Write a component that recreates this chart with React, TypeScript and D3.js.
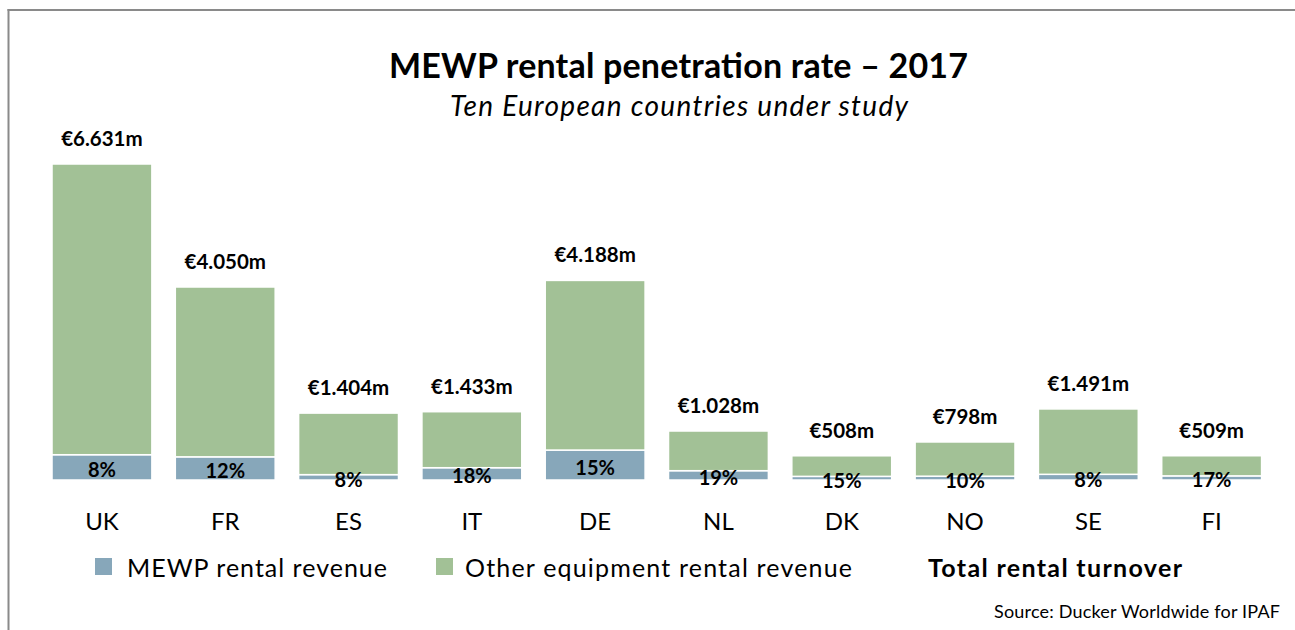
import React from "react";
import * as d3 from "d3";

const categories = ["UK", "FR", "ES", "IT", "DE", "NL", "DK", "NO", "SE", "FI"];
const totals = [6631, 4050, 1404, 1433, 4188, 1028, 508, 798, 1491, 509];
const mewpShare = [8, 12, 8, 18, 15, 19, 15, 10, 8, 17];
const totalLabels = ["€6.631m", "€4.050m", "€1.404m", "€1.433m", "€4.188m", "€1.028m", "€508m", "€798m", "€1.491m", "€509m"];
const legendLabels = ["MEWP rental revenue", "Other equipment rental revenue"];

const W = 1295;
const H = 630;
const FONT = "Lato, 'Open Sans', sans-serif";
const BLUE = "#87A7BA";
const GREEN = "#A2C196";

export default function App() {
  const x = d3
    .scaleBand<string>()
    .domain(categories)
    .range([40.3, 1273.3])
    .paddingInner(0.19)
    .paddingOuter(0.095);
  const y = d3.scaleLinear().domain([0, 6631]).range([480, 164]);

  return (
    <svg
      width={W}
      height={H}
      style={{ position: "absolute", left: 0, top: 0, background: "#fff" }}
    >
      <rect x={0} y={0} width={W} height={H} fill="#fff" />
      <line x1={8.5} y1={9} x2={8.5} y2={H} stroke="#8a8a8a" strokeWidth={2} />
      <line x1={7.5} y1={10} x2={W} y2={10} stroke="#8a8a8a" strokeWidth={2} />

      <text
        x={389}
        y={78}
        textLength={579}
        lengthAdjust="spacing"
        fontFamily={FONT}
        fontWeight="bold"
        fontSize={34}
        fill="#000"
      >
        MEWP rental penetration rate – 2017
      </text>
      <text
        x={450}
        y={116}
        textLength={458}
        lengthAdjust="spacing"
        fontFamily={FONT}
        fontStyle="italic"
        fontSize={28}
        fill="#000"
      >
        Ten European countries under study
      </text>

      {categories.map((c, i) => {
        const total = totals[i];
        const mewp = (total * mewpShare[i]) / 100;
        const bx = x(c)!;
        const bw = x.bandwidth();
        const cx = bx + bw / 2;
        const yMewp = y(mewp);
        const yTop = y(total);
        return (
          <g key={c}>
            <rect
              x={bx}
              y={yMewp}
              width={bw}
              height={y(0) - yMewp}
              fill={BLUE}
              stroke="#fff"
              strokeWidth={1.5}
            />
            <rect
              x={bx}
              y={yTop}
              width={bw}
              height={yMewp - yTop}
              fill={GREEN}
              stroke="#fff"
              strokeWidth={1.5}
            />
            <text
              x={cx}
              y={(yMewp + y(0)) / 2 + 1.5}
              textAnchor="middle"
              dominantBaseline="central"
              fontFamily={FONT}
              fontWeight="bold"
              fontSize={20}
              fill="#000"
            >
              {mewpShare[i]}%
            </text>
            <text
              x={cx}
              y={yTop - 26}
              textAnchor="middle"
              dominantBaseline="central"
              fontFamily={FONT}
              fontWeight="bold"
              fontSize={20.5}
              fill="#000"
            >
              {totalLabels[i]}
            </text>
            <text
              x={cx}
              y={520}
              textAnchor="middle"
              dominantBaseline="central"
              fontFamily={FONT}
              fontSize={24}
              fill="#000"
            >
              {c}
            </text>
          </g>
        );
      })}

      <rect x={95} y={558} width={17} height={17} fill={BLUE} />
      <text
        x={127}
        y={567}
        textLength={260}
        lengthAdjust="spacing"
        dominantBaseline="central"
        fontFamily={FONT}
        fontSize={25}
        fill="#000"
      >
        {legendLabels[0]}
      </text>
      <rect x={436} y={558} width={17} height={17} fill={GREEN} />
      <text
        x={465}
        y={567}
        textLength={387}
        lengthAdjust="spacing"
        dominantBaseline="central"
        fontFamily={FONT}
        fontSize={25}
        fill="#000"
      >
        {legendLabels[1]}
      </text>
      <text
        x={928}
        y={567}
        textLength={254}
        lengthAdjust="spacing"
        dominantBaseline="central"
        fontFamily={FONT}
        fontWeight="bold"
        fontSize={25}
        fill="#000"
      >
        Total rental turnover
      </text>
      <text
        x={994}
        y={611}
        textLength={286}
        lengthAdjust="spacing"
        dominantBaseline="central"
        fontFamily={FONT}
        fontSize={18}
        fill="#000"
      >
        Source: Ducker Worldwide for IPAF
      </text>
    </svg>
  );
}
